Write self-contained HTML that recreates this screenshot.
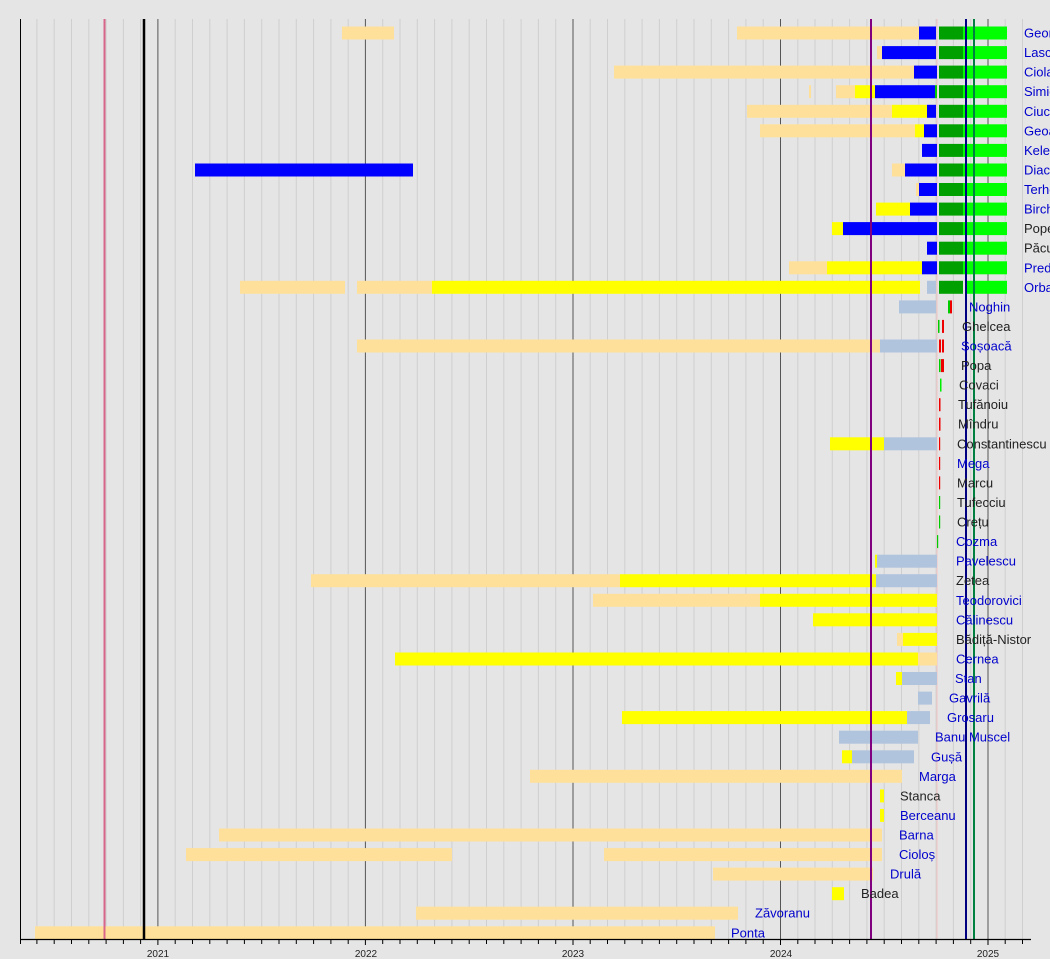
<!DOCTYPE html>
<html><head><meta charset="utf-8"><style>
html,body{margin:0;padding:0;background:#e5e5e5;}
svg{display:block;font-family:"Liberation Sans","DejaVu Sans",sans-serif;}
.b{fill:#0000cc;font-size:13px}
.k{fill:#222;font-size:13px}
</style></head><body>
<svg width="1050" height="959" viewBox="0 0 1050 959" xmlns="http://www.w3.org/2000/svg">
<rect width="1050" height="959" fill="#e5e5e5"/>
<path stroke="#cfcfcf" stroke-width="1" fill="none" d="M36.9 19V939M54.2 19V939M71.5 19V939M88.8 19V939M106.1 19V939M123.4 19V939M140.6 19V939M175.2 19V939M192.5 19V939M209.8 19V939M227.1 19V939M244.4 19V939M261.7 19V939M279 19V939M296.3 19V939M313.6 19V939M330.9 19V939M348.2 19V939M382.7 19V939M400 19V939M417.3 19V939M434.6 19V939M451.9 19V939M469.2 19V939M486.5 19V939M503.8 19V939M521.1 19V939M538.4 19V939M555.7 19V939M590.2 19V939M607.5 19V939M624.8 19V939M642.1 19V939M659.4 19V939M676.7 19V939M694 19V939M711.3 19V939M728.6 19V939M745.9 19V939M763.2 19V939M797.8 19V939M815 19V939M832.3 19V939M849.6 19V939M866.9 19V939M884.2 19V939M901.5 19V939M918.8 19V939M936.1 19V939M953.4 19V939M970.7 19V939M1005.2 19V939M1022.5 19V939"/>
<path stroke="#555" stroke-width="1" fill="none" d="M157.9 19V939M365.4 19V939M573 19V939M780.5 19V939M988 19V939"/>
<line x1="937" y1="19" x2="937" y2="939" stroke="#f2c4c4" stroke-width="1"/>
<g transform="translate(0,-6.5)">
<rect x="342" y="33" width="52" height="13" fill="#ffe09a"/>
<rect x="737" y="33" width="182" height="13" fill="#ffe09a"/>
<rect x="919" y="33" width="17" height="13" fill="#0000ff"/>
<rect x="877" y="52.6" width="5" height="13" fill="#ffe09a"/>
<rect x="882" y="52.6" width="54" height="13" fill="#0000ff"/>
<rect x="614" y="72.1" width="300" height="13" fill="#ffe09a"/>
<rect x="914" y="72.1" width="23" height="13" fill="#0000ff"/>
<rect x="809" y="91.7" width="2" height="13" fill="#ffe09a"/>
<rect x="836" y="91.7" width="19" height="13" fill="#ffe09a"/>
<rect x="855" y="91.7" width="20" height="13" fill="#ffff00"/>
<rect x="875" y="91.7" width="60" height="13" fill="#0000ff"/>
<rect x="935" y="91.7" width="2" height="13" fill="#00cc00"/>
<rect x="747" y="111.3" width="145" height="13" fill="#ffe09a"/>
<rect x="892" y="111.3" width="35" height="13" fill="#ffff00"/>
<rect x="927" y="111.3" width="9" height="13" fill="#0000ff"/>
<rect x="760" y="130.8" width="155" height="13" fill="#ffe09a"/>
<rect x="915" y="130.8" width="9" height="13" fill="#ffff00"/>
<rect x="924" y="130.8" width="13" height="13" fill="#0000ff"/>
<rect x="922" y="150.4" width="15" height="13" fill="#0000ff"/>
<rect x="195" y="170" width="218" height="13" fill="#0000ff"/>
<rect x="892" y="170" width="13" height="13" fill="#ffe09a"/>
<rect x="905" y="170" width="32" height="13" fill="#0000ff"/>
<rect x="916" y="189.5" width="3" height="13" fill="#ffe09a"/>
<rect x="919" y="189.5" width="18" height="13" fill="#0000ff"/>
<rect x="876" y="209.1" width="34" height="13" fill="#ffff00"/>
<rect x="910" y="209.1" width="27" height="13" fill="#0000ff"/>
<rect x="832" y="228.6" width="11" height="13" fill="#ffff00"/>
<rect x="843" y="228.6" width="94" height="13" fill="#0000ff"/>
<rect x="927" y="248.2" width="10" height="13" fill="#0000ff"/>
<rect x="789" y="267.8" width="38" height="13" fill="#ffe09a"/>
<rect x="827" y="267.8" width="95" height="13" fill="#ffff00"/>
<rect x="922" y="267.8" width="15" height="13" fill="#0000ff"/>
<rect x="240" y="287.3" width="105" height="13" fill="#ffe09a"/>
<rect x="357" y="287.3" width="75" height="13" fill="#ffe09a"/>
<rect x="432" y="287.3" width="488" height="13" fill="#ffff00"/>
<rect x="927" y="287.3" width="9" height="13" fill="#b0c4de"/>
<rect x="939" y="33" width="24" height="13" fill="#00a000"/><rect x="963" y="33" width="44" height="13" fill="#00ff00"/>
<rect x="939" y="52.6" width="24" height="13" fill="#00a000"/><rect x="963" y="52.6" width="44" height="13" fill="#00ff00"/>
<rect x="939" y="72.1" width="24" height="13" fill="#00a000"/><rect x="963" y="72.1" width="44" height="13" fill="#00ff00"/>
<rect x="939" y="91.7" width="24" height="13" fill="#00a000"/><rect x="963" y="91.7" width="44" height="13" fill="#00ff00"/>
<rect x="939" y="111.3" width="24" height="13" fill="#00a000"/><rect x="963" y="111.3" width="44" height="13" fill="#00ff00"/>
<rect x="939" y="130.8" width="24" height="13" fill="#00a000"/><rect x="963" y="130.8" width="44" height="13" fill="#00ff00"/>
<rect x="939" y="150.4" width="24" height="13" fill="#00a000"/><rect x="963" y="150.4" width="44" height="13" fill="#00ff00"/>
<rect x="939" y="170" width="24" height="13" fill="#00a000"/><rect x="963" y="170" width="44" height="13" fill="#00ff00"/>
<rect x="939" y="189.5" width="24" height="13" fill="#00a000"/><rect x="963" y="189.5" width="44" height="13" fill="#00ff00"/>
<rect x="939" y="209.1" width="24" height="13" fill="#00a000"/><rect x="963" y="209.1" width="44" height="13" fill="#00ff00"/>
<rect x="939" y="228.6" width="24" height="13" fill="#00a000"/><rect x="963" y="228.6" width="44" height="13" fill="#00ff00"/>
<rect x="939" y="248.2" width="24" height="13" fill="#00a000"/><rect x="963" y="248.2" width="44" height="13" fill="#00ff00"/>
<rect x="939" y="267.8" width="24" height="13" fill="#00a000"/><rect x="963" y="267.8" width="44" height="13" fill="#00ff00"/>
<rect x="939" y="287.3" width="24" height="13" fill="#00a000"/><rect x="967" y="287.3" width="40" height="13" fill="#00ff00"/>
<rect x="899" y="306.9" width="37" height="13" fill="#b0c4de"/>
<rect x="948" y="306.9" width="2" height="13" fill="#00cc00"/><rect x="950" y="306.9" width="2" height="13" fill="#ee0000"/>
<rect x="938" y="326.4" width="1.5" height="13" fill="#00cc00"/><rect x="942" y="326.4" width="2" height="13" fill="#ee0000"/>
<rect x="357" y="346" width="523" height="13" fill="#ffe09a"/>
<rect x="880" y="346" width="57" height="13" fill="#b0c4de"/>
<rect x="939" y="346" width="2" height="13" fill="#ee0000"/><rect x="942" y="346" width="2" height="13" fill="#ee0000"/>
<rect x="939" y="365.6" width="1.5" height="13" fill="#00cc00"/><rect x="941" y="365.6" width="3" height="13" fill="#ee0000"/>
<rect x="940" y="385.1" width="1.5" height="13" fill="#00ee00"/>
<rect x="939" y="404.7" width="1.5" height="13" fill="#ee0000"/>
<rect x="939" y="424.2" width="1.5" height="13" fill="#ee0000"/>
<rect x="830" y="443.8" width="54" height="13" fill="#ffff00"/>
<rect x="884" y="443.8" width="53" height="13" fill="#b0c4de"/>
<rect x="939" y="443.8" width="1.2" height="13" fill="#ee0000"/>
<rect x="939" y="463.4" width="1.2" height="13" fill="#ee0000"/>
<rect x="939" y="482.9" width="1.2" height="13" fill="#ee0000"/>
<rect x="939" y="502.5" width="1.2" height="13" fill="#00cc00"/>
<rect x="939" y="522" width="1.2" height="13" fill="#00cc00"/>
<rect x="937" y="541.6" width="1.2" height="13" fill="#00cc00"/>
<rect x="875" y="561.2" width="2" height="13" fill="#ffff00"/>
<rect x="877" y="561.2" width="60" height="13" fill="#b0c4de"/>
<rect x="311" y="580.7" width="309" height="13" fill="#ffe09a"/>
<rect x="620" y="580.7" width="256" height="13" fill="#ffff00"/>
<rect x="876" y="580.7" width="61" height="13" fill="#b0c4de"/>
<rect x="593" y="600.3" width="167" height="13" fill="#ffe09a"/>
<rect x="760" y="600.3" width="177" height="13" fill="#ffff00"/>
<rect x="813" y="619.8" width="124" height="13" fill="#ffff00"/>
<rect x="897" y="639.4" width="6" height="13" fill="#ffe09a"/>
<rect x="903" y="639.4" width="34" height="13" fill="#ffff00"/>
<rect x="395" y="659" width="523" height="13" fill="#ffff00"/>
<rect x="918" y="659" width="19" height="13" fill="#ffe09a"/>
<rect x="896" y="678.5" width="6" height="13" fill="#ffff00"/>
<rect x="902" y="678.5" width="35" height="13" fill="#b0c4de"/>
<rect x="918" y="698.1" width="14" height="13" fill="#b0c4de"/>
<rect x="622" y="717.6" width="285" height="13" fill="#ffff00"/>
<rect x="907" y="717.6" width="23" height="13" fill="#b0c4de"/>
<rect x="839" y="737.2" width="79" height="13" fill="#b0c4de"/>
<rect x="842" y="756.8" width="10" height="13" fill="#ffff00"/>
<rect x="852" y="756.8" width="62" height="13" fill="#b0c4de"/>
<rect x="530" y="776.3" width="372" height="13" fill="#ffe09a"/>
<rect x="880" y="795.9" width="4" height="13" fill="#ffff00"/>
<rect x="880" y="815.4" width="4" height="13" fill="#ffff00"/>
<rect x="219" y="835" width="663" height="13" fill="#ffe09a"/>
<rect x="186" y="854.6" width="266" height="13" fill="#ffe09a"/>
<rect x="604" y="854.6" width="278" height="13" fill="#ffe09a"/>
<rect x="713" y="874.1" width="160" height="13" fill="#ffe09a"/>
<rect x="832" y="893.7" width="12" height="13" fill="#ffff00"/>
<rect x="416" y="913.2" width="322" height="13" fill="#ffe09a"/>
<rect x="35" y="932.8" width="680" height="13" fill="#ffe09a"/>
</g>
<line x1="104.5" y1="19" x2="104.5" y2="939" stroke="#d8668a" stroke-width="2"/>
<line x1="144" y1="19" x2="144" y2="939" stroke="#000" stroke-width="2.5"/>
<line x1="871" y1="19" x2="871" y2="939" stroke="#800080" stroke-width="2"/>
<line x1="966" y1="19" x2="966" y2="939" stroke="#000080" stroke-width="2"/>
<line x1="974" y1="19" x2="974" y2="939" stroke="#008040" stroke-width="2"/>
<g dominant-baseline="central">
<text class="b" x="1024" y="33">George</text>
<text class="b" x="1024" y="52.6">Lasconi</text>
<text class="b" x="1024" y="72.1">Ciolacu</text>
<text class="b" x="1024" y="91.7">Simion</text>
<text class="b" x="1024" y="111.3">Ciucă</text>
<text class="b" x="1024" y="130.8">Geoană</text>
<text class="b" x="1024" y="150.4">Kelemen</text>
<text class="b" x="1024" y="170">Diaconescu</text>
<text class="b" x="1024" y="189.5">Terheș</text>
<text class="b" x="1024" y="209.1">Birchall</text>
<text class="k" x="1024" y="228.6">Popescu</text>
<text class="k" x="1024" y="248.2">Păcuraru</text>
<text class="b" x="1024" y="267.8">Predoiu</text>
<text class="b" x="1024" y="287.3">Orban</text>
<text class="b" x="969" y="306.9">Noghin</text>
<text class="k" x="962" y="326.4">Ghelcea</text>
<text class="b" x="961" y="346">Șoșoacă</text>
<text class="k" x="961" y="365.6">Popa</text>
<text class="k" x="959" y="385.1">Covaci</text>
<text class="k" x="958" y="404.7">Tufănoiu</text>
<text class="k" x="958" y="424.2">Mîndru</text>
<text class="k" x="957" y="443.8">Constantinescu</text>
<text class="b" x="957" y="463.4">Mega</text>
<text class="k" x="957" y="482.9">Marcu</text>
<text class="k" x="957" y="502.5">Tufecciu</text>
<text class="k" x="957" y="522">Crețu</text>
<text class="b" x="956" y="541.6">Cozma</text>
<text class="b" x="956" y="561.2">Pavelescu</text>
<text class="k" x="956" y="580.7">Zetea</text>
<text class="b" x="956" y="600.3">Teodorovici</text>
<text class="b" x="956" y="619.8">Călinescu</text>
<text class="k" x="956" y="639.4">Bădiță-Nistor</text>
<text class="b" x="956" y="659">Cernea</text>
<text class="b" x="955" y="678.5">Stan</text>
<text class="b" x="949" y="698.1">Gavrilă</text>
<text class="b" x="947" y="717.6">Grosaru</text>
<text class="b" x="935" y="737.2">Banu Muscel</text>
<text class="b" x="931" y="756.8">Gușă</text>
<text class="b" x="919" y="776.3">Marga</text>
<text class="k" x="900" y="795.9">Stanca</text>
<text class="b" x="900" y="815.4">Berceanu</text>
<text class="b" x="899" y="835">Barna</text>
<text class="b" x="899" y="854.6">Cioloș</text>
<text class="b" x="890" y="874.1">Drulă</text>
<text class="k" x="861" y="893.7">Badea</text>
<text class="b" x="755" y="913.2">Zăvoranu</text>
<text class="b" x="731" y="932.8">Ponta</text>
</g>
<line x1="20.5" y1="19" x2="20.5" y2="939" stroke="#000" stroke-width="1"/>
<line x1="20" y1="939.5" x2="1031" y2="939.5" stroke="#000" stroke-width="1.2"/>
<path stroke="#000" stroke-width="1" fill="none" d="M20.5 939V944M36.9 939V944M54.2 939V944M71.5 939V944M88.8 939V944M106.1 939V944M123.4 939V944M140.6 939V944M157.9 939V945M175.2 939V944M192.5 939V944M209.8 939V944M227.1 939V944M244.4 939V944M261.7 939V944M279 939V944M296.3 939V944M313.6 939V944M330.9 939V944M348.2 939V944M365.4 939V945M382.7 939V944M400 939V944M417.3 939V944M434.6 939V944M451.9 939V944M469.2 939V944M486.5 939V944M503.8 939V944M521.1 939V944M538.4 939V944M555.7 939V944M573 939V945M590.2 939V944M607.5 939V944M624.8 939V944M642.1 939V944M659.4 939V944M676.7 939V944M694 939V944M711.3 939V944M728.6 939V944M745.9 939V944M763.2 939V944M780.5 939V945M797.8 939V944M815 939V944M832.3 939V944M849.6 939V944M866.9 939V944M884.2 939V944M901.5 939V944M918.8 939V944M936.1 939V944M953.4 939V944M970.7 939V944M988 939V945M1005.2 939V944M1022.5 939V944"/>
<g font-size="10" fill="#222" text-anchor="middle">
<text x="158" y="957">2021</text>
<text x="366" y="957">2022</text>
<text x="573" y="957">2023</text>
<text x="781" y="957">2024</text>
<text x="988" y="957">2025</text>
</g>
</svg>
</body></html>
